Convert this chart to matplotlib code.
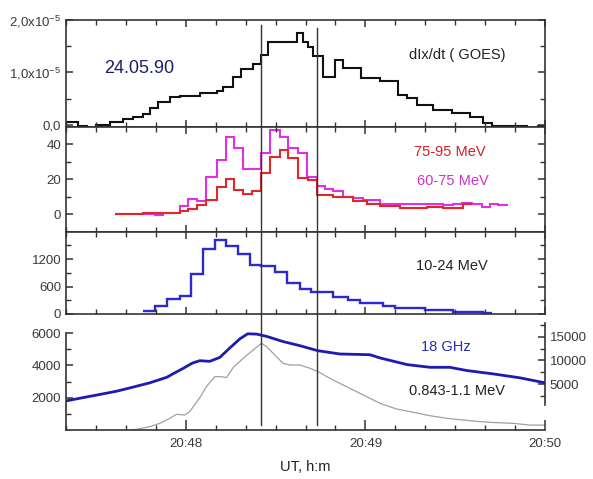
import matplotlib

matplotlib.use("Agg")
import matplotlib.pyplot as plt
from matplotlib.ticker import FixedLocator, MultipleLocator, NullFormatter
import numpy as np

# time axis: seconds after 20:47:00 UT
XLIM = (20, 180)
TIME_TICKS = [60, 120, 180]
TIME_LABELS = ["20:48", "20:49", "20:50"]
MARKERS = [85.3, 103.9]

# dIx/dt (GOES), units of 1e-5
goes_edges = [20, 24, 27, 30, 34.6, 39, 42.4, 45.7, 48, 50.7, 54.7, 58, 64.7, 70.3,
              72.5, 75.8, 78.6, 82.5, 85.3, 87.5, 97, 99.2, 100.9, 102.6, 105.7,
              109.8, 112.6, 118.7, 124.9, 131, 133.8, 137.1, 142.7, 148.8, 154.9,
              159.4, 162.2, 173.9, 177.8, 180]
goes_vals = [0.06, -0.02, -0.05, 0.0, 0.05, 0.11, 0.16, 0.21, 0.32, 0.44, 0.53, 0.56,
             0.60, 0.65, 0.73, 0.92, 1.06, 1.16, 1.33, 1.59, 1.75, 1.59, 1.48, 1.31,
             0.92, 1.24, 1.08, 0.90, 0.83, 0.57, 0.51, 0.38, 0.29, 0.22, 0.16, 0.03,
             -0.02, -0.18, -0.02]

# 75-95 MeV protons
red_edges = [36.3, 45.7, 49.6, 52.4, 58.0, 60.8, 63.6, 66.9, 70.3, 73.4, 76.0, 79.2,
             82.0, 85.3, 88.1, 91.4, 94.2, 97.5, 100.9, 104.0, 109.2, 115.9, 120.4,
             124.9, 131.5, 140.5, 146.0, 149.4, 152.7, 155.5]
red_vals = [0, 1, 1, 1, 1.9, 3.0, 5.3, 8.1, 15.7, 20.4, 13.8, 11.4, 13.2, 23.3, 32.7,
            36.5, 31.8, 20.8, 19.5, 11.2, 10.0, 7.6, 5.7, 4.9, 3.8, 4.3, 3.8, 3.4, 5.7]

# 60-75 MeV protons
mag_edges = [36.3, 45.7, 49.6, 52.4, 58.0, 60.8, 63.6, 66.9, 70.3, 73.4, 76.0, 79.2,
             85.3, 88.1, 91.4, 94.2, 97.5, 100.4, 104.0, 106.5, 109.2, 112.6, 115.9,
             119.3, 124.9, 128.2, 133.8, 137.1, 140.5, 146.0, 149.4, 152.2, 155.5,
             158.9, 161.6, 164.4, 167.7]
mag_vals = [0, 0.3, -0.5, 1, 4.5, 8.7, 7.6, 21.4, 30.9, 44.1, 37.9, 25.7, 34.7, 47.9,
            44.1, 37.5, 34.7, 21.4, 16.0, 14.5, 13.2, 10.0, 9.1, 8.1, 6.2, 5.7, 6.2,
            5.7, 6.2, 5.3, 5.7, 6.6, 5.9, 4.3, 5.7, 5.3]

# 10-24 MeV protons
blue_edges = [45.7, 49.6, 53.7, 58.0, 61.9, 65.8, 69.7, 73.6, 77.5, 81.4, 85.3, 89.8,
              93.7, 98.1, 102.0, 109.1, 114.2, 118.2, 125.9, 129.9, 139.9, 149.3,
              159.3, 162.3]
blue_vals = [60, 170, 330, 387, 879, 1413, 1611, 1479, 1303, 1062, 1040, 915, 673,
             549, 480, 370, 314, 242, 182, 123, 80, 35, 13]

# 18 GHz radio flux (left axis)
ghz_t = [20, 25.6, 31.3, 37.0, 42.3, 48.0, 53.7, 55.7, 59.0, 62.3, 64.7, 68.0, 71.4,
         74.7, 78.1, 80.7, 83.7, 87.1, 92.4, 98.1, 104.1, 111.5, 121.5, 124.9, 133.9,
         141.6, 148.2, 153.9, 162.6, 171.6, 180]
ghz_v = [1800, 2000, 2200, 2405, 2650, 2920, 3265, 3475, 3800, 4150, 4290, 4250, 4495,
         5075, 5645, 5955, 5935, 5790, 5480, 5220, 4908, 4705, 4660, 4460, 4050, 3880,
         3880, 3680, 3475, 3230, 2920]

# 0.843-1.1 MeV electrons (right axis)
el_t = [40, 42.4, 48.0, 51.3, 54.7, 56.9, 59.7, 61.3, 64.7, 66.9, 69.7, 71.9, 73.6,
        75.8, 79.2, 82.5, 85.3, 87.0, 90.3, 92.5, 94.8, 98.1, 101.5, 104.2, 108.1,
        113.7, 119.3, 124.9, 130.4, 136.0, 141.6, 147.2, 152.7, 158.3, 163.9, 169.4,
        175.0, 180]
el_v = [-4800, -4600, -3900, -3200, -2150, -1300, -1450, -750, 2200, 4500, 6600, 6600,
        6400, 8500, 10460, 12200, 13600, 12900, 10800, 9400, 9050, 9050, 8360, 7650,
        6260, 4500, 2750, 1000, -190, -880, -1600, -2150, -2500, -2850, -3060, -3200,
        -3570, -3570]

plt.rcParams["font.family"] = ["Liberation Sans", "DejaVu Sans"]
plt.rcParams["mathtext.fontset"] = "custom"
plt.rcParams["mathtext.rm"] = "Liberation Sans"
plt.rcParams["mathtext.it"] = "Liberation Sans"

SPINE = "#333333"
TXT = "#3a3a3a"
TICK_FS = 9.5


def frame(ax, top=True):
    for s in ax.spines.values():
        s.set_color(SPINE)
        s.set_linewidth(1.2)
    ax.set_xlim(*XLIM)
    ax.xaxis.set_major_locator(FixedLocator(TIME_TICKS))
    ax.xaxis.set_minor_locator(MultipleLocator(10))
    ax.tick_params(which="both", direction="in", colors=SPINE, labelcolor=TXT,
                   labelsize=TICK_FS, top=top, right=True)
    ax.tick_params(which="major", length=5, width=1.1)
    ax.tick_params(which="minor", length=3.5, width=1.0)
    ax.xaxis.set_major_formatter(NullFormatter())


fig = plt.figure(figsize=(5.93, 4.79), dpi=100)
L, W = 66 / 593, 479 / 593
ax1 = fig.add_axes([L, 1 - 127 / 479, W, 107 / 479])
ax2 = fig.add_axes([L, 1 - 232 / 479, W, 105 / 479])
ax3 = fig.add_axes([L, 1 - 314 / 479, W, 82 / 479])
ax4 = fig.add_axes([L, 1 - 430 / 479, W, 116 / 479])

# panel 1: GOES derivative
frame(ax1)
ax1.stairs(np.array(goes_vals) * 1e-5, goes_edges, color="#111111", lw=1.5,
           baseline=None, clip_on=False)
ax1.set_ylim(-0.04e-5, 2.0e-5)
ax1.yaxis.set_major_locator(FixedLocator([0, 1e-5, 2e-5]))
ax1.set_yticklabels(["0,0", r"1,0x10$^{-5}$", r"2,0x10$^{-5}$"])
ax1.yaxis.set_minor_locator(MultipleLocator(0.5e-5))
ax1.text(44.3, 1.07e-5, "24.05.90", color="#1c1c6e", fontsize=13,
         ha="center", va="center")
ax1.text(150.6, 1.33e-5, "dIx/dt ( GOES)", color="#222222", fontsize=10.5,
         ha="center", va="center")

# panel 2: high-energy protons
frame(ax2)
ax2.stairs(mag_vals, mag_edges, color="#e030e0", lw=1.5, baseline=None)
ax2.stairs(red_vals, red_edges, color="#e02828", lw=1.5, baseline=None)
ax2.set_ylim(-10, 49.7)
ax2.yaxis.set_major_locator(FixedLocator([0, 20, 40]))
ax2.yaxis.set_minor_locator(MultipleLocator(10))
ax2.text(148.3, 35.4, "75-95 MeV", color="#d42020", fontsize=10.5,
         ha="center", va="center")
ax2.text(149.3, 18.9, "60-75 MeV", color="#cc33cc", fontsize=10.5,
         ha="center", va="center")

# panel 3: 10-24 MeV protons
frame(ax3)
ax3.stairs(blue_vals, blue_edges, color="#2a2ad0", lw=1.7, baseline=None)
ax3.set_ylim(0, 1793)
ax3.yaxis.set_major_locator(FixedLocator([0, 600, 1200]))
ax3.yaxis.set_minor_locator(MultipleLocator(300))
ax3.text(148.9, 1040, "10-24 MeV", color="#222222", fontsize=10.5,
         ha="center", va="center")

# panel 4: radio and electrons
frame(ax4, top=False)
ax4.tick_params(which="both", right=False)
ax4.spines["top"].set_visible(False)
ax4.spines["right"].set_visible(False)
ax4.spines["left"].set_bounds(0, 6000)
ax4r = ax4.twinx()
ax4r.set_xlim(*XLIM)
for side in ["top", "left", "bottom"]:
    ax4r.spines[side].set_visible(False)
ax4r.spines["right"].set_color(SPINE)
ax4r.spines["right"].set_linewidth(1.2)
ax4r.spines["right"].set_bounds(700, 17900)

ax4r.plot(el_t, el_v, color="#a0a0a0", lw=0.9)
ax4r.set_ylim(-4600, 19760)
ax4r.yaxis.set_major_locator(FixedLocator([5000, 10000, 15000]))
ax4r.yaxis.set_minor_locator(FixedLocator([2500, 7500, 12500, 17500]))
ax4r.tick_params(which="both", direction="in", colors=SPINE, labelcolor=TXT,
                 labelsize=TICK_FS)
ax4r.tick_params(which="major", length=5, width=1.1)
ax4r.tick_params(which="minor", length=3.5, width=1.0)

ax4.plot(ghz_t, ghz_v, color="#1c1cb0", lw=2)
ax4.set_zorder(ax4r.get_zorder() + 1)
ax4.patch.set_visible(False)
ax4.set_ylim(0, 7180)
ax4.yaxis.set_major_locator(FixedLocator([2000, 4000, 6000]))
ax4.yaxis.set_minor_locator(FixedLocator([1000, 3000, 5000]))
ax4.xaxis.set_major_formatter(plt.FixedFormatter(TIME_LABELS))
ax4.tick_params(axis="x", which="major", length=7, pad=6)
ax4.text(146.9, 5154, "18 GHz", color="#2a2ab8", fontsize=10.5,
         ha="center", va="center")
ax4.text(150.6, 2386, "0.843-1.1 MeV", color="#222222", fontsize=10.5,
         ha="center", va="center")
ax4.set_xlabel("UT, h:m", fontsize=10.5, color="#222222", labelpad=7)

# marker lines through all panels
for ax, lo, hi in [(ax1, 0, [0.953, 0.925]), (ax2, 0, [1, 1]), (ax3, 0, [1, 1]),
                   (ax4, 0.043, [1, 1])]:
    for t, top in zip(MARKERS, hi):
        ax.axvline(t, ymin=lo, ymax=top, color="#333333", lw=1.0)

fig.savefig("out.png", dpi=100)
